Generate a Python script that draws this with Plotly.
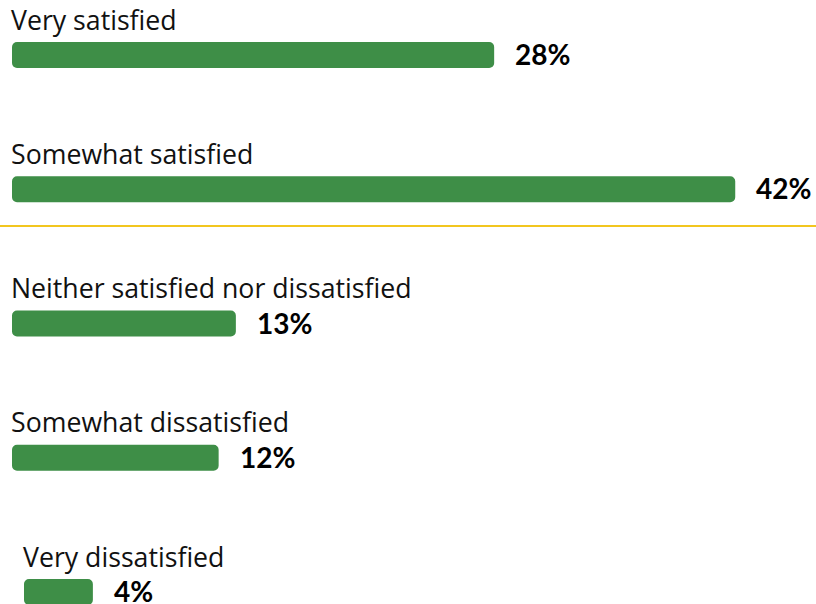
import plotly.graph_objects as go

categories = ["Very satisfied", "Somewhat satisfied", "Neither satisfied nor dissatisfied",
              "Somewhat dissatisfied", "Very dissatisfied"]
values = [28, 42, 13, 12, 4]
value_labels = ["28%", "42%", "13%", "12%", "4%"]

W, H = 816, 604
ML = 12
PX_PER_UNIT = 17.22          # horizontal pixels per percentage point
ROW_PX = 134.25              # vertical pixels between bar centers
FIRST_CENTER_PX = 55
BAR_PX = 26
GREEN = "#3e8e47"
YELLOW = "#f2c61f"

xmax = (W - ML) / PX_PER_UNIT
ymax = FIRST_CENTER_PX / ROW_PX
ymin = ymax - H / ROW_PX

ypos = [-i for i in range(len(categories))]
indent = [0, 0, 0, 0, 12 / PX_PER_UNIT]  # last row is drawn slightly indented

fig = go.Figure()
fig.add_trace(go.Bar(
    x=values, y=ypos, base=indent, orientation="h",
    marker=dict(color=GREEN, line=dict(width=0)),
    width=BAR_PX / ROW_PX, hoverinfo="skip",
))

ann = []
for i, (c, v, lab) in enumerate(zip(categories, values, value_labels)):
    ann.append(dict(x=indent[i], y=ypos[i], xref="x", yref="y", text=c, showarrow=False,
                    xanchor="left", yanchor="middle", yshift=36, xshift=-3,
                    font=dict(family="Open Sans", size=26.7, color="#111111")))
    ann.append(dict(x=indent[i] + v, y=ypos[i], xref="x", yref="y", text="<b>" + lab + "</b>",
                    showarrow=False, xanchor="left", yanchor="middle", xshift=19, yshift=1,
                    font=dict(family="Lato", size=28, color="#000000", weight=900)))

sep_y = ymax - 226 / ROW_PX
fig.add_shape(type="line", xref="paper", yref="y", x0=-ML / (W - ML), x1=1, y0=sep_y, y1=sep_y,
              line=dict(color=YELLOW, width=2))

fig.update_layout(
    width=W, height=H, margin=dict(l=ML, r=0, t=0, b=0),
    paper_bgcolor="white", plot_bgcolor="white",
    barcornerradius=5, showlegend=False, annotations=ann,
    xaxis=dict(range=[0, xmax], visible=False, fixedrange=True),
    yaxis=dict(range=[ymin, ymax], visible=False, fixedrange=True),
)
fig.write_html("out.html")
